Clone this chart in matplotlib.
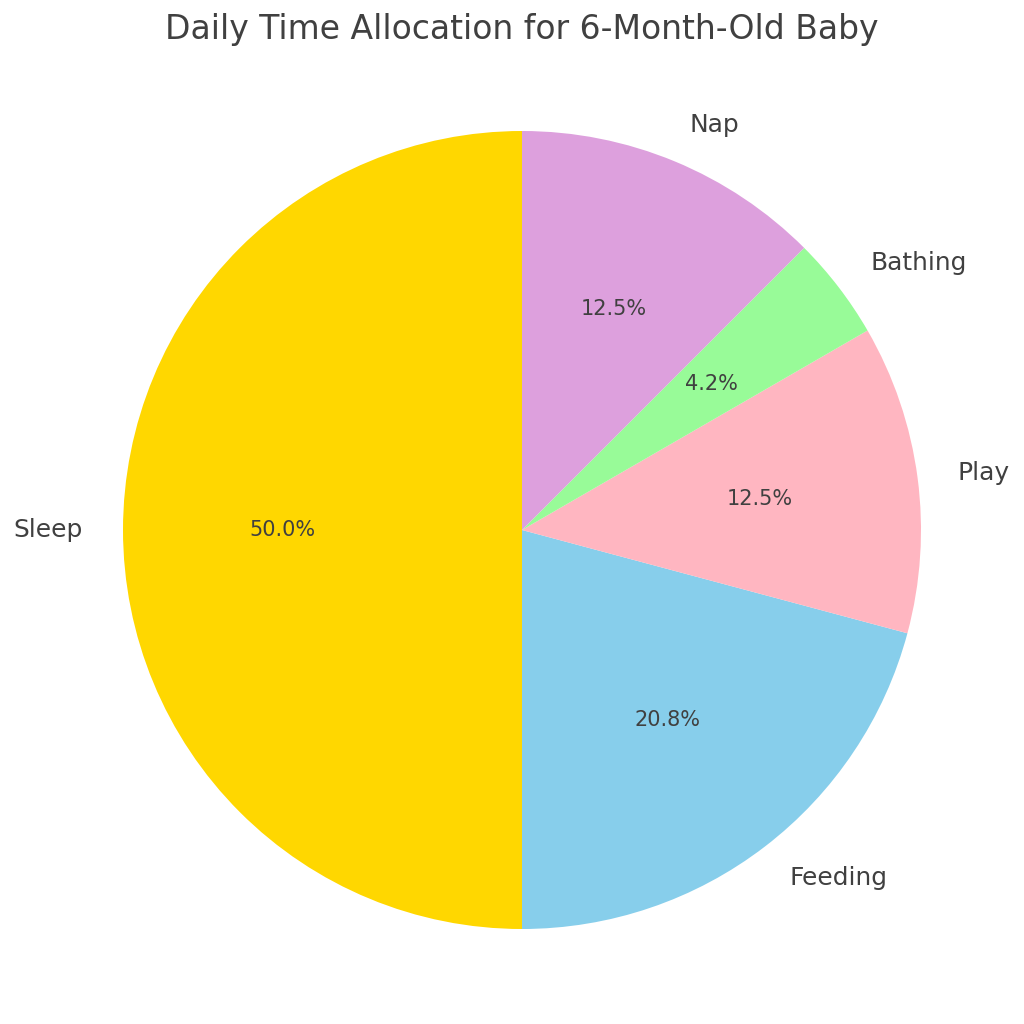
import matplotlib.pyplot as plt

activities = ['Sleep', 'Feeding', 'Play', 'Bathing', 'Nap']
hours = [12, 5, 3, 1, 3]
colors = ['gold', 'skyblue', 'lightpink', 'palegreen', 'plum']

plt.rcParams['text.color'] = '#404040'

fig = plt.figure(figsize=(10, 10), dpi=102.4)
# pie centre at (522, 530) px, radius about 399 px
lim = 1.25
size = 2 * lim * 399 / 1024
ax = fig.add_axes([522 / 1024 - size / 2, (1024 - 530) / 1024 - size / 2, size, size])
ax.pie(hours, labels=activities, colors=colors, autopct='%1.1f%%', startangle=90,
       textprops={'fontsize': 17.5})
for t in ax.texts:
    if '%' in t.get_text():
        t.set_fontsize(14.7)
ax.set_xlim(-lim, lim)
ax.set_ylim(-lim, lim)
ax.set_aspect('equal')
fig.text(522 / 1024, 1 - 30 / 1024, 'Daily Time Allocation for 6-Month-Old Baby',
         fontsize=23.2, ha='center', va='center', color='#404040')
plt.savefig('out.png')
